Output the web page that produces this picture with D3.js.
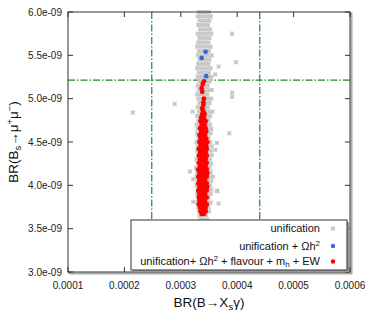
<!DOCTYPE html>
<html>
<head>
<meta charset="utf-8">
<script src="https://cdn.jsdelivr.net/npm/d3@7"></script>
<style>
  body { margin: 0; background: #fff; }
  text { font-family: "Liberation Sans", Arial, sans-serif; }
</style>
</head>
<body>
<div id="chart"></div>
<script>
// x values in units of 1e-4, y values in units of 1e-9
const xTicks = [1, 2, 3, 4, 5, 6];
const xTickLabels = ['0.0001', '0.0002', '0.0003', '0.0004', '0.0005', '0.0006'];
const yTicks = [3.0, 3.5, 4.0, 4.5, 5.0, 5.5, 6.0];
const yTickLabels = ['3.0e-09', '3.5e-09', '4.0e-09', '4.5e-09', '5.0e-09', '5.5e-09', '6.0e-09'];

// experimental limits (green dash-dot)
const xLimits = [2.485, 4.4];
const yLimits = [5.215];

// unification: dense column, rows of [y, [x...]]
const greyRows = [
  [6.00, [3.32, 3.38, 3.44, 3.50]],
  [5.95, [3.30, 3.35, 3.41, 3.47, 3.53]],
  [5.90, [3.33, 3.39, 3.45, 3.51]],
  [5.85, [3.31, 3.36, 3.42, 3.48]],
  [5.80, [3.34, 3.40, 3.46, 3.52]],
  [5.75, [3.30, 3.36, 3.42, 3.48, 3.54]],
  [5.70, [3.33, 3.39, 3.45, 3.51]],
  [5.65, [3.31, 3.37, 3.43, 3.49]],
  [5.60, [3.29, 3.35, 3.41, 3.47, 3.53]],
  [5.55, [3.32, 3.38, 3.44, 3.50]],
  [5.50, [3.30, 3.36, 3.42, 3.48, 3.55]],
  [5.45, [3.33, 3.39, 3.45, 3.51]],
  [5.40, [3.31, 3.37, 3.43, 3.49]],
  [5.35, [3.29, 3.35, 3.41, 3.47, 3.53]],
  [5.30, [3.32, 3.38, 3.44, 3.50]],
  [5.25, [3.30, 3.36, 3.42, 3.48, 3.54]],
  [5.20, [3.33, 3.39, 3.45, 3.51]],
  [5.15, [3.30, 3.36, 3.42, 3.48]],
  [5.10, [3.32, 3.38, 3.44, 3.50, 3.55]],
  [5.05, [3.29, 3.35, 3.41, 3.47]],
  [5.00, [3.31, 3.37, 3.43, 3.49, 3.54]],
  [4.95, [3.33, 3.39, 3.45, 3.51]],
  [4.90, [3.30, 3.36, 3.42, 3.48]],
  [4.85, [3.32, 3.38, 3.44, 3.50, 3.56]],
  [4.80, [3.29, 3.35, 3.41, 3.47, 3.52]],
  [4.75, [3.31, 3.37, 3.43, 3.49]],
  [4.70, [3.28, 3.34, 3.40, 3.46, 3.52]],
  [4.65, [3.30, 3.36, 3.42, 3.48, 3.54]],
  [4.60, [3.29, 3.35, 3.41, 3.47, 3.53]],
  [4.55, [3.31, 3.37, 3.43, 3.49]],
  [4.50, [3.28, 3.34, 3.40, 3.46, 3.52]],
  [4.45, [3.30, 3.36, 3.42, 3.48, 3.55]],
  [4.40, [3.29, 3.35, 3.41, 3.47, 3.53]],
  [4.35, [3.31, 3.37, 3.43, 3.49, 3.55]],
  [4.30, [3.28, 3.34, 3.40, 3.46, 3.52]],
  [4.25, [3.30, 3.36, 3.42, 3.48, 3.54]],
  [4.20, [3.27, 3.33, 3.39, 3.45, 3.51]],
  [4.15, [3.29, 3.35, 3.41, 3.47, 3.53]],
  [4.10, [3.28, 3.34, 3.40, 3.46, 3.52, 3.57]],
  [4.05, [3.30, 3.36, 3.42, 3.48, 3.54]],
  [4.00, [3.28, 3.34, 3.40, 3.46, 3.52]],
  [3.95, [3.30, 3.36, 3.42, 3.48, 3.54]],
  [3.90, [3.29, 3.35, 3.41, 3.47, 3.53]],
  [3.85, [3.31, 3.37, 3.43, 3.49]],
  [3.80, [3.29, 3.35, 3.41, 3.47, 3.53]],
  [3.75, [3.31, 3.37, 3.43, 3.49]],
  [3.70, [3.32, 3.38, 3.44, 3.50]],
  [3.65, [3.33, 3.39, 3.45]],
  [3.60, [3.35, 3.41, 3.47]]
];

// unification: scattered points away from the column, [x, y]
const greyOutliers = [
  [3.91, 5.75], [3.98, 5.42], [3.67, 5.37], [3.61, 5.28], [3.91, 5.07],
  [3.91, 5.02], [2.89, 4.94], [2.15, 4.84], [3.21, 4.85], [3.86, 4.60],
  [3.64, 4.49], [3.61, 4.41], [3.16, 4.16], [3.22, 4.07], [3.65, 3.93],
  [3.64, 3.94], [3.22, 3.81], [3.67, 3.79]
];

// unification + relic density
const bluePoints = [[3.44, 5.54], [3.37, 5.47], [3.45, 5.26]];

// all constraints: sparse upper part [x, y]
const redUpper = [
  [3.41, 5.20], [3.39, 5.17], [3.37, 5.12], [3.38, 5.08], [3.41, 5.00],
  [3.40, 4.96], [3.40, 4.93], [3.38, 4.89], [3.39, 4.86], [3.41, 4.84]
];

// all constraints: dense lower part, rows of [y, [x...]]
const redRows = [
  [4.82, [3.38, 3.42]],
  [4.78, [3.36, 3.41]],
  [4.74, [3.35, 3.40, 3.44]],
  [4.70, [3.37, 3.42]],
  [4.66, [3.34, 3.39, 3.44]],
  [4.62, [3.36, 3.41, 3.45]],
  [4.58, [3.33, 3.38, 3.43]],
  [4.54, [3.35, 3.40, 3.45]],
  [4.50, [3.33, 3.38, 3.43, 3.47]],
  [4.46, [3.35, 3.40, 3.45]],
  [4.42, [3.32, 3.37, 3.42, 3.46]],
  [4.38, [3.34, 3.39, 3.44]],
  [4.34, [3.32, 3.37, 3.42, 3.46]],
  [4.30, [3.34, 3.39, 3.44]],
  [4.26, [3.32, 3.37, 3.42, 3.46]],
  [4.22, [3.34, 3.39, 3.44]],
  [4.18, [3.31, 3.36, 3.41, 3.46]],
  [4.14, [3.33, 3.38, 3.43, 3.47]],
  [4.10, [3.31, 3.36, 3.41, 3.46]],
  [4.06, [3.33, 3.38, 3.43]],
  [4.02, [3.31, 3.36, 3.41, 3.46]],
  [3.98, [3.33, 3.38, 3.43, 3.47]],
  [3.94, [3.31, 3.36, 3.41, 3.46]],
  [3.90, [3.33, 3.38, 3.43]],
  [3.86, [3.32, 3.37, 3.42, 3.46]],
  [3.82, [3.33, 3.38, 3.43]],
  [3.78, [3.32, 3.37, 3.42, 3.46]],
  [3.74, [3.34, 3.39, 3.44]],
  [3.70, [3.35, 3.40, 3.44]],
  [3.67, [3.37, 3.41]]
];

const width = 369;
const height = 316;
const margin = {top: 12, right: 19, bottom: 44, left: 68};
const innerW = width - margin.left - margin.right;
const innerH = height - margin.top - margin.bottom;

const greyColor = '#c6c6c6';
const blueColor = '#3a66dd';
const redColor = '#ff0000';
const greenColor = '#1f8a1f';

const svg = d3.select('#chart').append('svg')
  .attr('width', width)
  .attr('height', height);

const x = d3.scaleLinear().domain([1, 6]).range([margin.left, margin.left + innerW]);
const y = d3.scaleLinear().domain([3, 6]).range([margin.top + innerH, margin.top]);

const flatRows = rows => rows.flatMap(([yy, xs]) => xs.map(xx => [xx, yy]));
const greyPoints = flatRows(greyRows).concat(greyOutliers);
const redPoints = redUpper.concat(flatRows(redRows));

// frame shadow
svg.append('rect')
  .attr('x', margin.left + 1.5).attr('y', margin.top + 1.5)
  .attr('width', innerW).attr('height', innerH)
  .attr('fill', 'none').attr('stroke', '#aaa').attr('stroke-width', 2);

svg.append('rect')
  .attr('x', margin.left).attr('y', margin.top)
  .attr('width', innerW).attr('height', innerH)
  .attr('fill', '#fff');

// limit lines
const dash = '7,2,1.5,2';
svg.selectAll('line.xlim').data(xLimits).enter().append('line')
  .attr('x1', d => x(d)).attr('x2', d => x(d))
  .attr('y1', y(6)).attr('y2', y(3))
  .attr('stroke', greenColor).attr('stroke-width', 1.2)
  .attr('stroke-dasharray', dash);
svg.selectAll('line.ylim').data(yLimits).enter().append('line')
  .attr('y1', d => y(d)).attr('y2', d => y(d))
  .attr('x1', x(1)).attr('x2', x(6))
  .attr('stroke', greenColor).attr('stroke-width', 1.2)
  .attr('stroke-dasharray', dash);

// grey markers (small crossed squares)
const crossPath = (cx, cy, s) => `M${cx - s},${cy - s}L${cx + s},${cy + s}M${cx - s},${cy + s}L${cx + s},${cy - s}`;
svg.append('g').selectAll('rect').data(greyPoints).enter().append('rect')
  .attr('x', d => x(d[0]) - 2).attr('y', d => y(d[1]) - 2)
  .attr('width', 4).attr('height', 4)
  .attr('fill', '#d6d6d6');
svg.append('g').selectAll('path').data(greyPoints).enter().append('path')
  .attr('d', d => crossPath(x(d[0]), y(d[1]), 1.8))
  .attr('stroke', '#bdbdbd').attr('stroke-width', 1).attr('fill', 'none');

svg.append('g').selectAll('circle').data(bluePoints).enter().append('circle')
  .attr('cx', d => x(d[0])).attr('cy', d => y(d[1])).attr('r', 2.4)
  .attr('fill', blueColor);

svg.append('g').selectAll('circle').data(redPoints).enter().append('circle')
  .attr('cx', d => x(d[0])).attr('cy', d => y(d[1])).attr('r', 2.4)
  .attr('fill', redColor);

// frame
svg.append('rect')
  .attr('x', margin.left).attr('y', margin.top)
  .attr('width', innerW).attr('height', innerH)
  .attr('fill', 'none').attr('stroke', '#333').attr('stroke-width', 1);

// inner ticks on all sides
const tickLen = 5;
const ticks = svg.append('g').attr('stroke', '#333').attr('stroke-width', 1);
xTicks.forEach(t => {
  ticks.append('line').attr('x1', x(t)).attr('x2', x(t)).attr('y1', y(3)).attr('y2', y(3) - tickLen);
  ticks.append('line').attr('x1', x(t)).attr('x2', x(t)).attr('y1', y(6)).attr('y2', y(6) + tickLen);
});
yTicks.forEach(t => {
  ticks.append('line').attr('y1', y(t)).attr('y2', y(t)).attr('x1', x(1)).attr('x2', x(1) + tickLen);
  ticks.append('line').attr('y1', y(t)).attr('y2', y(t)).attr('x1', x(6)).attr('x2', x(6) - tickLen);
});

// tick labels
svg.append('g').selectAll('text').data(xTicks).enter().append('text')
  .attr('x', d => x(d)).attr('y', y(3) + 17)
  .attr('text-anchor', 'middle').attr('font-size', 10).attr('fill', '#222')
  .text((d, i) => xTickLabels[i]);
svg.append('g').selectAll('text').data(yTicks).enter().append('text')
  .attr('x', x(1) - 6).attr('y', d => y(d) + 3.5)
  .attr('text-anchor', 'end').attr('font-size', 10).attr('fill', '#222')
  .text((d, i) => yTickLabels[i]);

// axis titles
const xt = svg.append('text')
  .attr('x', (x(1) + x(6)) / 2).attr('y', 307)
  .attr('text-anchor', 'middle').attr('font-size', 13.5).attr('fill', '#111');
xt.append('tspan').text('BR(B→X');
xt.append('tspan').attr('dy', 3).attr('font-size', 9.5).text('s');
xt.append('tspan').attr('dy', -3).text('γ)');

const yt = svg.append('text')
  .attr('transform', `translate(18,${(y(3) + y(6)) / 2}) rotate(-90)`)
  .attr('text-anchor', 'middle').attr('font-size', 13.5).attr('fill', '#111');
yt.append('tspan').text('BR(B');
yt.append('tspan').attr('dy', 3).attr('font-size', 9.5).text('s');
yt.append('tspan').attr('dy', -3).text('→μ');
yt.append('tspan').attr('dy', -5).attr('font-size', 9.5).text('+');
yt.append('tspan').attr('dy', 5).text('μ');
yt.append('tspan').attr('dy', -5).attr('font-size', 9.5).text('−');
yt.append('tspan').attr('dy', 5).text(')');

// legend
const lg = {x: 131, y: 220, w: 216, h: 50};
svg.append('path')
  .attr('d', `M${lg.x + lg.w + 1},${lg.y + 2}V${lg.y + lg.h + 1}H${lg.x + 2}`)
  .attr('fill', 'none').attr('stroke', '#999').attr('stroke-width', 2);
svg.append('rect')
  .attr('x', lg.x).attr('y', lg.y).attr('width', lg.w).attr('height', lg.h)
  .attr('fill', '#fff').attr('stroke', '#333').attr('stroke-width', 1);

const textX = 320;
const markX = 333;
const t1 = svg.append('text').attr('x', textX).attr('y', 232)
  .attr('text-anchor', 'end').attr('font-size', 11).attr('fill', '#111');
t1.text('unification');
svg.append('rect').attr('x', markX - 2).attr('y', 226.5).attr('width', 4).attr('height', 4).attr('fill', '#d6d6d6');
svg.append('path').attr('d', crossPath(markX, 228.5, 1.8))
  .attr('stroke', '#bdbdbd').attr('stroke-width', 1).attr('fill', 'none');

const t2 = svg.append('text').attr('x', textX).attr('y', 250)
  .attr('text-anchor', 'end').attr('font-size', 11).attr('fill', '#111');
t2.append('tspan').text('unification + Ωh');
t2.append('tspan').attr('dy', -4).attr('font-size', 8).text('2');
svg.append('circle').attr('cx', markX).attr('cy', 246).attr('r', 2.2).attr('fill', blueColor);

const t3 = svg.append('text').attr('x', textX).attr('y', 265)
  .attr('text-anchor', 'end').attr('font-size', 11).attr('fill', '#111');
t3.append('tspan').text('unification+ Ωh');
t3.append('tspan').attr('dy', -4).attr('font-size', 8).text('2');
t3.append('tspan').attr('dy', 4).text(' + flavour + m');
t3.append('tspan').attr('dy', 2).attr('font-size', 8).text('h');
t3.append('tspan').attr('dy', -2).text(' + EW');
svg.append('circle').attr('cx', markX).attr('cy', 261.5).attr('r', 2.2).attr('fill', redColor);
</script>
</body>
</html>
